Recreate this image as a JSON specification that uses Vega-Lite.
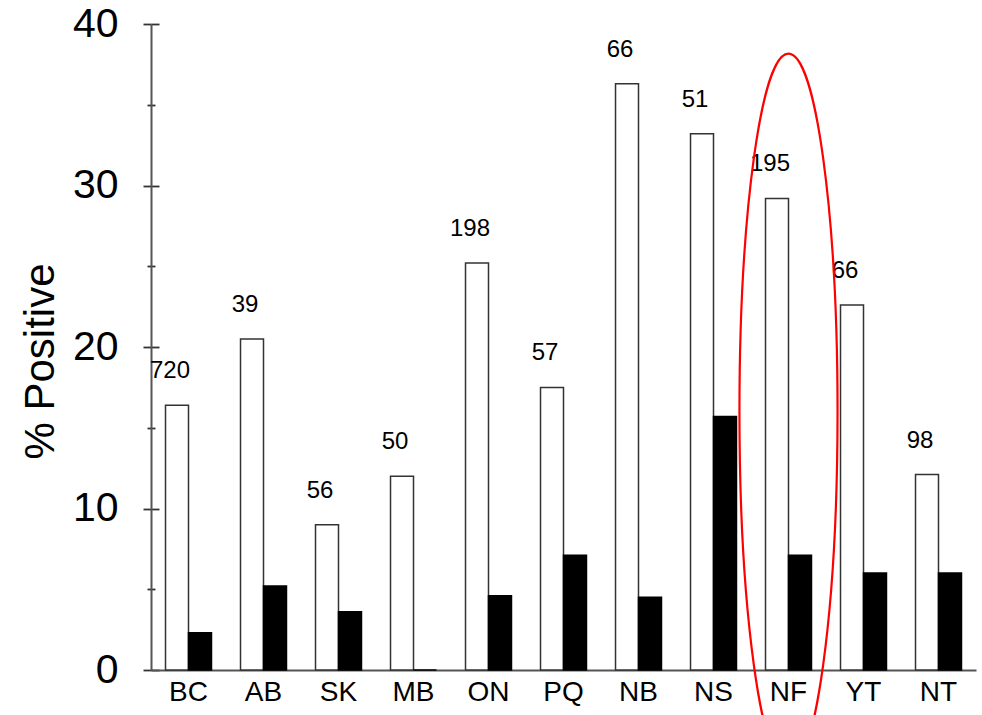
{
  "$schema": "https://vega.github.io/schema/vega-lite/v6.json",
  "width": 825,
  "height": 646,
  "autosize": {"type": "none"},
  "padding": {"left": 151, "top": 24, "right": 6, "bottom": 45},
  "background": "white",
  "config": {"view": {"stroke": null}, "font": "Liberation Sans"},
  "datasets": {
    "bars": [
      {"prov": "BC", "series": "total", "value": 16.4, "n": "720"},
      {"prov": "BC", "series": "subset", "value": 2.3},
      {"prov": "AB", "series": "total", "value": 20.5, "n": "39"},
      {"prov": "AB", "series": "subset", "value": 5.2},
      {"prov": "SK", "series": "total", "value": 9.0, "n": "56"},
      {"prov": "SK", "series": "subset", "value": 3.6},
      {"prov": "MB", "series": "total", "value": 12.0, "n": "50"},
      {"prov": "MB", "series": "subset", "value": 0},
      {"prov": "ON", "series": "total", "value": 25.2, "n": "198"},
      {"prov": "ON", "series": "subset", "value": 4.6},
      {"prov": "PQ", "series": "total", "value": 17.5, "n": "57"},
      {"prov": "PQ", "series": "subset", "value": 7.1},
      {"prov": "NB", "series": "total", "value": 36.3, "n": "66"},
      {"prov": "NB", "series": "subset", "value": 4.5},
      {"prov": "NS", "series": "total", "value": 33.2, "n": "51"},
      {"prov": "NS", "series": "subset", "value": 15.7},
      {"prov": "NF", "series": "total", "value": 29.2, "n": "195"},
      {"prov": "NF", "series": "subset", "value": 7.1},
      {"prov": "YT", "series": "total", "value": 22.6, "n": "66"},
      {"prov": "YT", "series": "subset", "value": 6.0},
      {"prov": "NT", "series": "total", "value": 12.1, "n": "98"},
      {"prov": "NT", "series": "subset", "value": 6.0}
    ],
    "highlight": [
      {"prov": "NF", "center": 16}
    ]
  },
  "layer": [
    {
      "data": {"name": "bars"},
      "mark": {"type": "bar", "strokeWidth": 1.5},
      "encoding": {
        "x": {
          "field": "prov", "type": "nominal",
          "scale": {"domain": ["BC","AB","SK","MB","ON","PQ","NB","NS","NF","YT","NT"], "paddingInner": 0.387, "paddingOuter": 0.1935},
          "axis": {"title": null, "labelFontSize": 28, "labelColor": "black", "labelAngle": 0, "ticks": false, "domainColor": "#555", "domainWidth": 2, "labelPadding": 8}
        },
        "xOffset": {
          "field": "series", "type": "nominal",
          "scale": {"domain": ["total", "subset"], "paddingInner": 0, "paddingOuter": 0}
        },
        "y": {
          "field": "value", "type": "quantitative",
          "scale": {"domain": [0, 40], "nice": false},
          "axis": {
            "title": "% Positive",
            "values": [0, 5, 10, 15, 20, 25, 30, 35, 40],
            "labelExpr": "datum.value % 10 === 0 ? datum.label : ''",
            "labelFontSize": 41,
            "labelColor": "black",
            "labelPadding": 25,
            "tickSize": {"condition": {"test": "datum.value % 10 === 0", "value": 8}, "value": 4},
            "tickColor": "#333",
            "tickWidth": 1.8,
            "grid": true,
            "gridDash": {"condition": {"test": "datum.value % 10 === 0", "value": [8, 2000]}, "value": [4, 2000]},
            "gridColor": "#333",
            "gridWidth": 1.8,
            "domainColor": "#555",
            "domainWidth": 2,
            "titleFontSize": 42,
            "titleFontWeight": "normal",
            "titleColor": "black",
            "titlePadding": 10,
            "titleY": 337
          }
        },
        "fill": {"field": "series", "type": "nominal", "scale": {"domain": ["total", "subset"], "range": ["white", "black"]}, "legend": null},
        "stroke": {"field": "series", "type": "nominal", "scale": {"domain": ["total", "subset"], "range": ["#333", "black"]}, "legend": null}
      }
    },
    {
      "data": {"name": "bars"},
      "transform": [{"filter": "datum.series === 'total'"}],
      "mark": {"type": "text", "fontSize": 24, "baseline": "alphabetic", "align": "center", "dy": -27, "dx": -7, "color": "black"},
      "encoding": {
        "x": {"field": "prov", "type": "nominal"},
        "xOffset": {"field": "series", "type": "nominal"},
        "y": {"field": "value", "type": "quantitative"},
        "text": {"field": "n", "type": "nominal"}
      }
    },
    {
      "data": {"name": "highlight"},
      "mark": {
        "type": "point",
        "shape": "M 0 -1 C 0.0757 -1 0.137 -0.5523 0.137 0 C 0.137 0.5523 0.0757 1 0 1 C -0.0757 1 -0.137 0.5523 -0.137 0 C -0.137 -0.5523 -0.0757 -1 0 -1 Z",
        "filled": false,
        "stroke": "red",
        "strokeWidth": 2.2,
        "opacity": 1,
        "size": 512656
      },
      "encoding": {
        "x": {"field": "prov", "type": "nominal"},
        "y": {"field": "center", "type": "quantitative"}
      }
    }
  ]
}
